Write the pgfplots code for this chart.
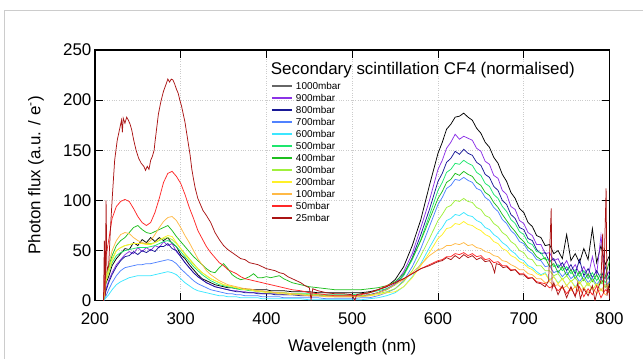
\documentclass[border=0pt]{standalone}
\usepackage{pgfplots}
\pgfplotsset{compat=1.18}
\usepackage{pgfplotstable}
\usepackage{fontspec}
\setmainfont{Liberation Sans}
\definecolor{c1000}{RGB}{0,0,0}
\definecolor{c900}{RGB}{140,50,230}
\definecolor{c800}{RGB}{25,25,150}
\definecolor{c700}{RGB}{80,130,255}
\definecolor{c600}{RGB}{60,230,255}
\definecolor{c500}{RGB}{30,230,110}
\definecolor{c400}{RGB}{30,190,30}
\definecolor{c300}{RGB}{160,240,60}
\definecolor{c200}{RGB}{255,240,40}
\definecolor{c100}{RGB}{255,185,70}
\definecolor{c50}{RGB}{255,40,40}
\definecolor{c25}{RGB}{170,20,20}
\pgfplotstableread{
x a b c d e f g h i j k
210 0 0 0 0 0 0 0 0 0 0 0
213 18 12 10 5 3 20 25 22 20 25 45
216 24 20 18 11 6 28 34 32 28 36 60
220 35 28 26 18 11 38 45 42 40 50 82
225 42 36 34 25 16 45 55 50 50 60 94
230 47 41 40 30 19 48 60 53 53 66 99
235 52 46 44 33 21 50 63 55 55 68 101
240 51 49 45 34 23 51 68 56 56 67 99
245 58 47 49 35 24 52 73 57 57 63 92
250 55 53 46 36 25 53 75 57 57 60 84
255 61 49 50 36 25 53 71 57 57 58 78
260 58 53 48 37 25 53 68 57 56 57 75
265 63 50 51 37 25 54 67 57 56 60 78
270 59 55 49 38 26 55 69 58 58 66 88
275 63 53 54 39 27 57 71 60 61 73 102
280 60 59 54 40 28 59 73 62 63 79 118
285 63 55 57 41 29 60 75 63 65 83 127
290 57 57 52 40 28 58 70 61 64 84 129
295 54 49 50 37 26 54 64 57 58 80 124
300 46 44 44 32 22 49 59 52 52 73 117
305 42 38 38 28 18 44 54 47 46 65 106
310 36 33 33 24 15 39 49 42 41 58 93
315 31 28 28 20 12 34 44 37 36 50 82
320 26 24 24 17 10 30 40 32 32 42 70
325 22 21 21 15 9 26 36 28 28 36 62
330 20 18 18 13 8 23 32 25 25 30 54
335 18 16 16 11 7 20 29 22 22 26 48
340 16 14 14 10 6 18 28 20 20 23 43
345 15 13 13 9 5 16 33 18 18 20 38
350 14 12 12 8 5 15 37 16 16 18 35
355 13 11 11 7 4 14 32 15 15 16 31
360 13 10 10 7 4 13 26 14 14 15 29
365 12 10 9 6 4 12 23 13 13 14 27
370 12 9 9 6 3 11 21 12 12 13 24
375 12 9 8 5 3 11 22 11 11 12 22
380 11 8 8 5 3 10 24 11 11 12 21
385 11 8 8 5 3 10 27 10 10 11 20
390 11 8 7 5 3 9 23 10 9 10 19
395 11 7 7 4 2 9 23 9 9 10 18
400 11 7 7 4 2 9 24 9 8 9 17
405 10 7 7 4 2 8 23 9 8 9 16
410 10 7 6 4 2 8 24 8 8 8 15
415 10 7 6 4 2 8 25 8 7 8 14
420 10 6 6 3 2 8 22 8 7 8 13
430 9 6 6 3 2 7 18 7 6 7 11
440 9 6 5 3 2 7 16 7 6 6 10
450 9 5 5 3 1 7 14 6 5 5 8
460 8 5 5 3 1 6 13 6 5 5 7
470 8 5 5 2 1 6 12 5 4 4 6
480 8 5 4 2 1 6 11 5 4 4 5
490 8 5 4 2 1 6 11 5 4 4 5
500 8 5 4 2 1 6 11 5 4 4 5
510 8 5 5 3 1 7 11 5 4 4 6
520 9 6 6 3 2 8 12 6 5 5 8
530 11 8 8 5 3 10 13 7 6 8 11
540 14 12 11 8 5 12 15 9 8 11 15
550 21 17 16 12 8 16 19 12 9 16 18
560 34 29 26 20 14 25 27 19 14 21 22
570 55 47 43 34 24 41 42 30 23 28 27
580 81 73 66 52 37 61 60 45 35 36 32
590 115 100 91 74 53 85 81 62 48 45 36
600 147 131 119 96 68 110 102 80 62 51 40
605 158 140 127 103 73 118 109 86 66 52 41
610 171 152 138 112 80 128 118 93 72 55 44
615 176 158 142 115 82 131 121 95 73 55 44
620 183 166 149 121 86 137 127 100 77 57 47
625 184 161 146 120 85 136 125 99 76 56 46
630 187 164 151 123 88 140 129 102 79 58 48
635 183 162 147 120 85 137 126 99 76 55 45
640 180 160 145 118 84 135 124 98 75 56 47
645 172 152 138 112 80 128 118 93 72 53 44
650 167 149 135 110 78 125 115 91 70 52 45
655 158 139 126 103 73 117 108 85 66 49 41
660 153 136 123 100 71 114 105 83 64 48 42
665 143 125 114 93 66 106 98 77 59 45 38
670 137 122 110 89 63 102 93 74 57 44 39
675 126 110 100 81 58 94 86 68 52 40 35
680 119 106 96 77 55 89 80 65 50 39 35
685 108 94 86 70 50 81 74 59 45 36 31
690 102 91 82 66 47 77 69 56 43 34 31
695 92 80 73 59 42 69 63 50 39 31 27
700 88 77 71 57 40 66 59 48 37 31 27
705 78 68 62 50 35 58 53 42 33 27 23
710 74 65 60 47 33 56 50 41 31 26 23
715 65 56 51 41 29 49 44 35 27 22 19
720 63 56 47 40 26 48 41 35 25 22 18
725 55 47 48 34 28 41 43 30 27 18 17
730 56 48 39 35 21 41 34 30 20 19 13
735 47 40 42 28 24 34 37 25 24 15 15
740 50 42 33 30 18 36 28 27 17 16 10
745 42 33 38 24 22 30 34 21 22 12 14
750 66 40 30 29 15 34 25 25 15 15 7
755 40 30 36 22 20 27 31 19 20 10 13
760 47 36 27 26 14 31 22 23 13 14 5
765 38 27 41 19 19 24 29 17 19 9 14
770 52 34 25 25 12 30 20 22 12 13 4
775 41 24 32 18 18 22 27 15 18 8 12
780 72 44 23 23 11 28 19 21 11 14 6
785 38 26 30 16 17 20 26 14 17 7 15
790 55 65 22 22 10 27 17 20 10 12 3
795 36 22 34 14 16 18 24 13 16 6 11
800 45 30 20 20 12 26 40 18 12 10 8
}\main
\pgfplotstableread{
x y
210 0
211 60
212 5
213 100
214 30
216 35
218 70
220 100
223 140
226 160
229 172
231 180
232 168
233 182
235 177
237 183
239 180
241 176
243 170
245 161
248 150
251 142
254 137
257 134
259 130
261 134
263 131
265 140
267 144
269 150
270 158
272 172
274 186
277 199
280 209
283 216
285 221
287 218
289 221
291 220
293 216
295 211
297 207
299 200
301 194
303 186
305 178
307 167
309 156
311 145
313 131
315 121
317 112
320 102
323 96
326 90
330 85
335 78
340 68
345 61
350 55
355 51
360 48
365 45
370 42
375 41
380 38
385 37
390 36
395 34
400 32
405 31
410 30
415 28
420 27
425 24
430 22
435 20
440 18
445 15
450 13
452 1
454 12
460 10
470 8
480 7
490 7
500 6
503 0
505 6
510 7
520 8
530 11
540 14
550 18
560 22
570 27
580 32
590 35
600 39
605 40
610 43
615 41
620 45
625 42
630 46
635 43
640 45
645 41
650 43
655 39
660 40
663 36
666 28
668 37
672 36
676 33
680 34
685 30
690 31
695 26
700 26
705 22
710 23
715 18
720 17
725 14
729 20
732 92
733 12
735 18
740 6
745 15
750 3
755 14
760 4
763 18
766 2
770 12
775 5
780 15
783 0
786 11
790 20
792 67
793 8
796 112
797 5
799 15
800 2
}\dr
\newcommand\legitem[3]{%
  \draw[draw=#1, line width=1.8bp] (axis description cs:0.3437,#2) -- (axis description cs:0.3825,#2);
  \node[anchor=west, inner sep=0pt, font=\fontsize{10}{12}\selectfont] at (axis description cs:0.3903,#2) {#3};}
\begin{document}
\begin{tikzpicture}[x=1bp,y=1bp]
\path (0,0) rectangle (643,359);
\draw[gray!40, line width=1bp] (4.5,0) -- (4.5,348) -- (643,348);
\begin{axis}[
 at={(95bp,58bp)}, anchor=south west,
 scale only axis, width=515bp, height=251bp,
 xmin=200, xmax=800, ymin=0, ymax=250,
 xtick={200,300,...,800}, ytick={0,50,...,250},
 tick align=inside, major tick length=8bp,
 axis line style={line width=1.3bp},
 tick style={black, line width=1bp},
 grid=major, major grid style={dotted, gray!40, line width=0.6bp},
 ticklabel style={font=\fontsize{17}{17}\selectfont},
 xticklabel style={yshift=-8bp},
 /pgf/number format/assume math mode=true,
 xlabel={Wavelength (nm)}, ylabel={Photon flux (a.u. / e\textsuperscript{-})},
 label style={font=\fontsize{17}{17}\selectfont},
 xlabel style={at={(axis description cs:0.5,-0.183)}, anchor=center},
 ylabel style={at={(axis description cs:-0.1146,0.5)}, anchor=center},
 every axis plot/.append style={line width=0.75bp, mark=none},
]
\addplot[draw=c1000] table[x=x,y=a]{\main};
\addplot[draw=c900] table[x=x,y=b]{\main};
\addplot[draw=c800] table[x=x,y=c]{\main};
\addplot[draw=c700] table[x=x,y=d]{\main};
\addplot[draw=c600] table[x=x,y=e]{\main};
\addplot[draw=c500] table[x=x,y=f]{\main};
\addplot[draw=c400] table[x=x,y=g]{\main};
\addplot[draw=c300] table[x=x,y=h]{\main};
\addplot[draw=c200] table[x=x,y=i]{\main};
\addplot[draw=c100] table[x=x,y=j]{\main};
\addplot[draw=c50] table[x=x,y=k]{\main};
\addplot[draw=c25] table[x=x,y=y]{\dr};
\legitem{black!60}{0.8578}{1000mbar}
\legitem{c900}{0.8096}{900mbar}
\legitem{c800}{0.7615}{800mbar}
\legitem{c700}{0.7135}{700mbar}
\legitem{c600}{0.6657}{600mbar}
\legitem{c500}{0.6175}{500mbar}
\legitem{c400}{0.5693}{400mbar}
\legitem{c300}{0.5215}{300mbar}
\legitem{c200}{0.4733}{200mbar}
\legitem{c100}{0.4255}{100mbar}
\legitem{c50}{0.3773}{50mbar}
\legitem{c25}{0.3291}{25mbar}
\node[anchor=west, inner sep=0pt, font=\fontsize{17}{17}\selectfont] at (axis cs:405,230) {Secondary scintillation CF4 (normalised)};
\end{axis}
\path (0,0) rectangle (643,359);
\end{tikzpicture}
\end{document}
